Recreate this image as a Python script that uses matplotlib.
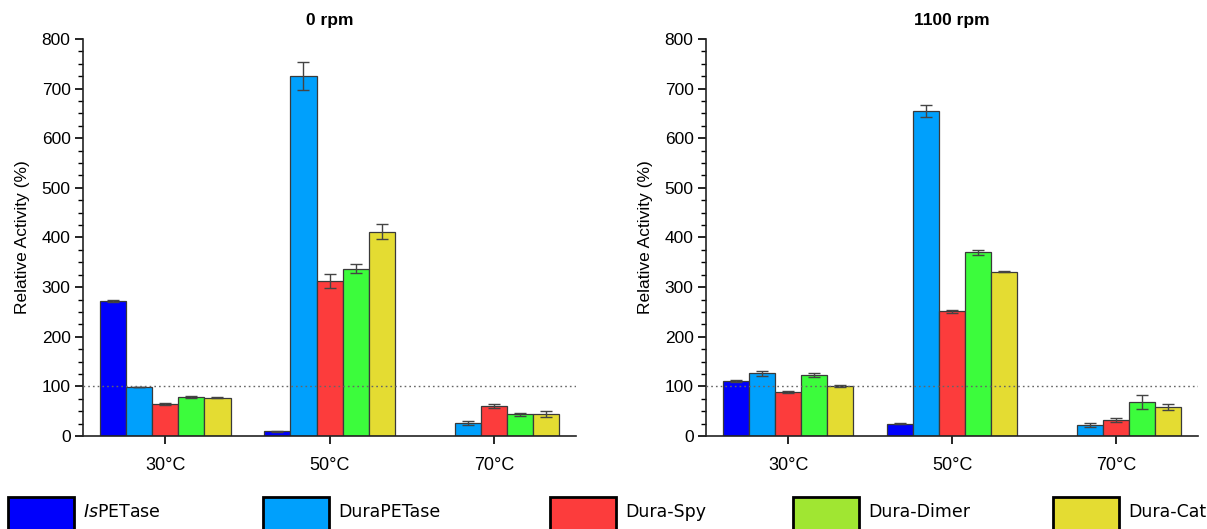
import numpy as np
import matplotlib
matplotlib.use("Agg")
import matplotlib.pyplot as plt
from matplotlib.patches import Rectangle

plt.rcParams['font.family'] = ['Liberation Sans', 'DejaVu Sans']
plt.rcParams['mathtext.fontset'] = 'custom'
plt.rcParams['mathtext.it'] = 'Liberation Sans Narrow:italic'
plt.rcParams['mathtext.rm'] = 'Liberation Sans Narrow'

groups = ['30°C', '50°C', '70°C']
series = ['IsPETase', 'DuraPETase', 'Dura-Spy', 'Dura-Dimer', 'Dura-Cat']
legend_labels = [r'$\it{Is}$PETase', 'DuraPETase', 'Dura-Spy', 'Dura-Dimer', 'Dura-Cat']

# 0 rpm
rpm0_is = [273, 10, np.nan]
rpm0_dura = [99, 726, 25.5]
rpm0_spy = [64.5, 312, 60.5]
rpm0_dimer = [78, 337, 44]
rpm0_cat = [77, 412, 44]
rpm0_is_err = [2, 1, 0]
rpm0_dura_err = [0, 28, 4]
rpm0_spy_err = [3, 14, 3.5]
rpm0_dimer_err = [2, 9, 3]
rpm0_cat_err = [1, 15, 5.5]

# 1100 rpm
rpm1100_is = [111, 25, np.nan]
rpm1100_dura = [126, 654, 23]
rpm1100_spy = [89, 251, 32]
rpm1100_dimer = [123, 370, 69]
rpm1100_cat = [100, 331, 58.5]
rpm1100_is_err = [2, 0.5, 0]
rpm1100_dura_err = [5, 12, 4]
rpm1100_spy_err = [1.5, 3, 4]
rpm1100_dimer_err = [4.5, 5, 14.5]
rpm1100_cat_err = [2, 0.5, 6]

bar_colors = ['#0000fc', '#00a0fc', '#fc3c3c', '#3cfc3c', '#e4dc32']
legend_colors = ['#0000fc', '#00a0fc', '#fc3c3c', '#a0e632', '#e4dc32']

panels = [
    ('0 rpm', [rpm0_is, rpm0_dura, rpm0_spy, rpm0_dimer, rpm0_cat],
     [rpm0_is_err, rpm0_dura_err, rpm0_spy_err, rpm0_dimer_err, rpm0_cat_err]),
    ('1100 rpm', [rpm1100_is, rpm1100_dura, rpm1100_spy, rpm1100_dimer, rpm1100_cat],
     [rpm1100_is_err, rpm1100_dura_err, rpm1100_spy_err, rpm1100_dimer_err, rpm1100_cat_err]),
]

fig = plt.figure(figsize=(12.07, 5.29), dpi=100)
axes_rects = [[0.0688, 0.1758, 0.4085, 0.7505], [0.585, 0.1758, 0.4076, 0.7505]]

x = np.arange(len(groups))
w = 0.159
for rect, (title, vals, errs) in zip(axes_rects, panels):
    ax = fig.add_axes(rect)
    for i in range(len(series)):
        pos = x + (i - 2) * w
        ax.bar(pos, vals[i], width=w, color=bar_colors[i], edgecolor='#3a3a3a', linewidth=0.9, zorder=2)
        v = np.array(vals[i], dtype=float)
        m = ~np.isnan(v)
        ax.errorbar(pos[m], v[m], yerr=np.array(errs[i])[m], fmt='none', ecolor='#444444',
                    elinewidth=1.0, capsize=4, capthick=1.0, zorder=3)
    ax.axhline(100, color='#666666', linestyle=(0, (1.2, 2.2)), linewidth=1.0, zorder=4)
    ax.set_xlim(-0.5, 2.5)
    ax.set_ylim(0, 800)
    ax.set_xticks(x)
    ax.set_xticklabels(groups, fontsize=13)
    ax.set_yticks(np.arange(0, 801, 100))
    ax.set_yticks(np.arange(0, 801, 25), minor=True)
    ax.tick_params(axis='y', which='major', length=6, width=1.2, labelsize=12.5, pad=3)
    ax.tick_params(axis='y', which='minor', length=3.5, width=1.0)
    ax.tick_params(axis='x', which='major', length=6, width=1.2, pad=9)
    for s in ['top', 'right']:
        ax.spines[s].set_visible(False)
    for s in ['left', 'bottom']:
        ax.spines[s].set_linewidth(1.2)
        ax.spines[s].set_color('#222222')
    ax.set_ylabel('Relative Activity (%)', fontsize=12.5, labelpad=8)
    ax.set_title(title, fontsize=12.5, fontweight='bold', pad=10)

# legend row along the bottom edge
leg_x = [8, 263, 550, 793, 1053]
W, H = 1207, 529
for lx, col, lab in zip(leg_x, legend_colors, legend_labels):
    fig.add_artist(Rectangle((lx / W, (529 - 540) / H), 66 / W, 43 / H, transform=fig.transFigure,
                             facecolor=col, edgecolor='black', linewidth=2, clip_on=False))
    fig.text((lx + 75) / W, (529 - 512) / H, lab, fontsize=12.5, va='center', ha='left',
             family=['Liberation Sans Narrow', 'DejaVu Sans'])

fig.savefig('out.png', dpi=100)
